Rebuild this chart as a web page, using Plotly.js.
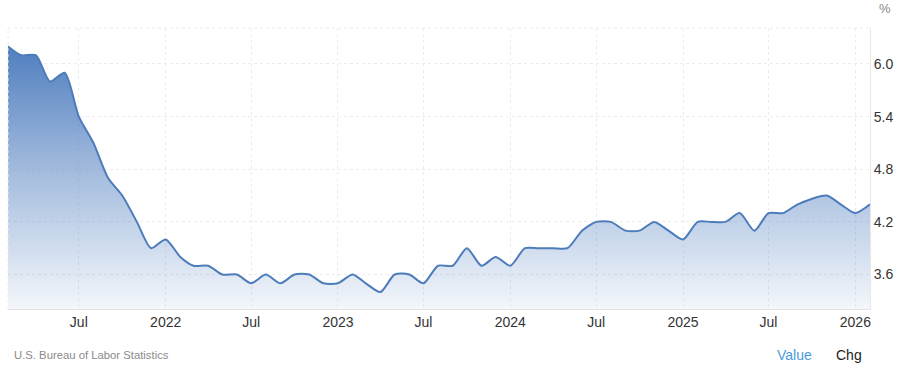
<!DOCTYPE html>
<html>
<head>
<meta charset="utf-8">
<script src="https://cdn.plot.ly/plotly-3.0.1.min.js"></script>
<style>
  html, body { margin: 0; padding: 0; background: #ffffff; }
  #chart { width: 900px; height: 374px; }
</style>
</head>
<body>
<div id="chart"></div>
<script>
// Monthly US unemployment rate (%)
const months = [
  "2021-02-01","2021-03-01","2021-04-01","2021-05-01","2021-06-01","2021-07-01","2021-08-01","2021-09-01","2021-10-01","2021-11-01","2021-12-01",
  "2022-01-01","2022-02-01","2022-03-01","2022-04-01","2022-05-01","2022-06-01","2022-07-01","2022-08-01","2022-09-01","2022-10-01","2022-11-01","2022-12-01",
  "2023-01-01","2023-02-01","2023-03-01","2023-04-01","2023-05-01","2023-06-01","2023-07-01","2023-08-01","2023-09-01","2023-10-01","2023-11-01","2023-12-01",
  "2024-01-01","2024-02-01","2024-03-01","2024-04-01","2024-05-01","2024-06-01","2024-07-01","2024-08-01","2024-09-01","2024-10-01","2024-11-01","2024-12-01",
  "2025-01-01","2025-02-01","2025-03-01","2025-04-01","2025-05-01","2025-06-01","2025-07-01","2025-08-01","2025-09-01","2025-11-01","2025-12-01",
  "2026-01-01","2026-02-01"
];
const rate = [
  6.2, 6.1, 6.1, 5.8, 5.9, 5.4, 5.1, 4.7, 4.5, 4.2, 3.9,
  4.0, 3.8, 3.7, 3.7, 3.6, 3.6, 3.5, 3.6, 3.5, 3.6, 3.6, 3.5,
  3.5, 3.6, 3.5, 3.4, 3.6, 3.6, 3.5, 3.7, 3.7, 3.9, 3.7, 3.8,
  3.7, 3.9, 3.9, 3.9, 3.9, 4.1, 4.2, 4.2, 4.1, 4.1, 4.2, 4.1,
  4.0, 4.2, 4.2, 4.2, 4.3, 4.1, 4.3, 4.3, 4.4, 4.5, 4.4,
  4.3, 4.4
];
const xTickVals = ["2021-07-01","2022-01-01","2022-07-01","2023-01-01","2023-07-01","2024-01-01","2024-07-01","2025-01-01","2025-07-01","2026-01-01"];
const xTickText = ["Jul","2022","Jul","2023","Jul","2024","Jul","2025","Jul","2026"];
const yTickVals = [3.6, 4.2, 4.8, 5.4, 6.0];

const FONT = "Arial, 'Liberation Sans', sans-serif";
const gridColor = "#ececec";

const trace = {
  x: months,
  y: rate,
  type: "scatter",
  mode: "lines",
  line: { color: "#4d7cbb", width: 2, shape: "spline", smoothing: 0.7 },
  fill: "tozeroy",
  fillgradient: {
    type: "vertical",
    start: 3.2,
    stop: 6.3,
    colorscale: [
      [0, "rgba(74,122,189,0.06)"],
      [0.5, "rgba(74,122,189,0.5)"],
      [1, "rgba(74,122,189,1)"]
    ]
  },
  hoverinfo: "skip"
};

const layout = {
  width: 900,
  height: 374,
  margin: { l: 8, r: 30, t: 28, b: 65, pad: 0 },
  paper_bgcolor: "#ffffff",
  plot_bgcolor: "#ffffff",
  showlegend: false,
  font: { family: FONT, size: 14, color: "#333333" },
  xaxis: {
    type: "date",
    range: ["2021-02-01", "2026-02-01"],
    tickvals: xTickVals,
    ticktext: xTickText,
    showgrid: true,
    gridcolor: gridColor,
    griddash: "dot",
    gridwidth: 1,
    showline: true,
    linecolor: "#e3e3e3",
    linewidth: 1,
    ticks: "",
    zeroline: false,
    tickfont: { family: FONT, size: 14, color: "#333333" },
    fixedrange: true
  },
  yaxis: {
    side: "right",
    range: [3.207, 6.41],
    tickvals: yTickVals,
    tickformat: ".1f",
    showgrid: true,
    gridcolor: gridColor,
    griddash: "dot",
    gridwidth: 1,
    showline: true,
    linecolor: "#e8e8e8",
    linewidth: 1,
    ticks: "",
    zeroline: false,
    tickfont: { family: FONT, size: 14, color: "#333333" },
    fixedrange: true
  },
  shapes: [
    { type: "line", xref: "paper", yref: "paper", x0: 0, x1: 1, y0: 1, y1: 1,
      line: { color: gridColor, width: 1, dash: "dot" } },
    { type: "line", xref: "paper", yref: "paper", x0: 0, x1: 0, y0: 0, y1: 1,
      line: { color: gridColor, width: 1, dash: "dot" } }
  ],
  annotations: [
    { text: "%", xref: "paper", yref: "paper", x: 1.017, y: 1.068,
      xanchor: "center", yanchor: "middle", showarrow: false,
      font: { family: FONT, size: 13, color: "#888888" } },
    { text: "U.S. Bureau of Labor Statistics", xref: "paper", yref: "paper",
      x: 0.005, y: -0.162, xanchor: "left", yanchor: "middle", showarrow: false,
      font: { family: FONT, size: 11.3, color: "#8a8a8a" } },
    { text: "Value", xref: "paper", yref: "paper", x: 0.912, y: -0.162,
      xanchor: "center", yanchor: "middle", showarrow: false,
      font: { family: FONT, size: 14, color: "#4a9bdc" } },
    { text: "Chg", xref: "paper", yref: "paper", x: 0.976, y: -0.162,
      xanchor: "center", yanchor: "middle", showarrow: false,
      font: { family: FONT, size: 14, color: "#222222" } }
  ]
};

Plotly.newPlot("chart", [trace], layout, { staticPlot: true, displayModeBar: false });
</script>
</body>
</html>
